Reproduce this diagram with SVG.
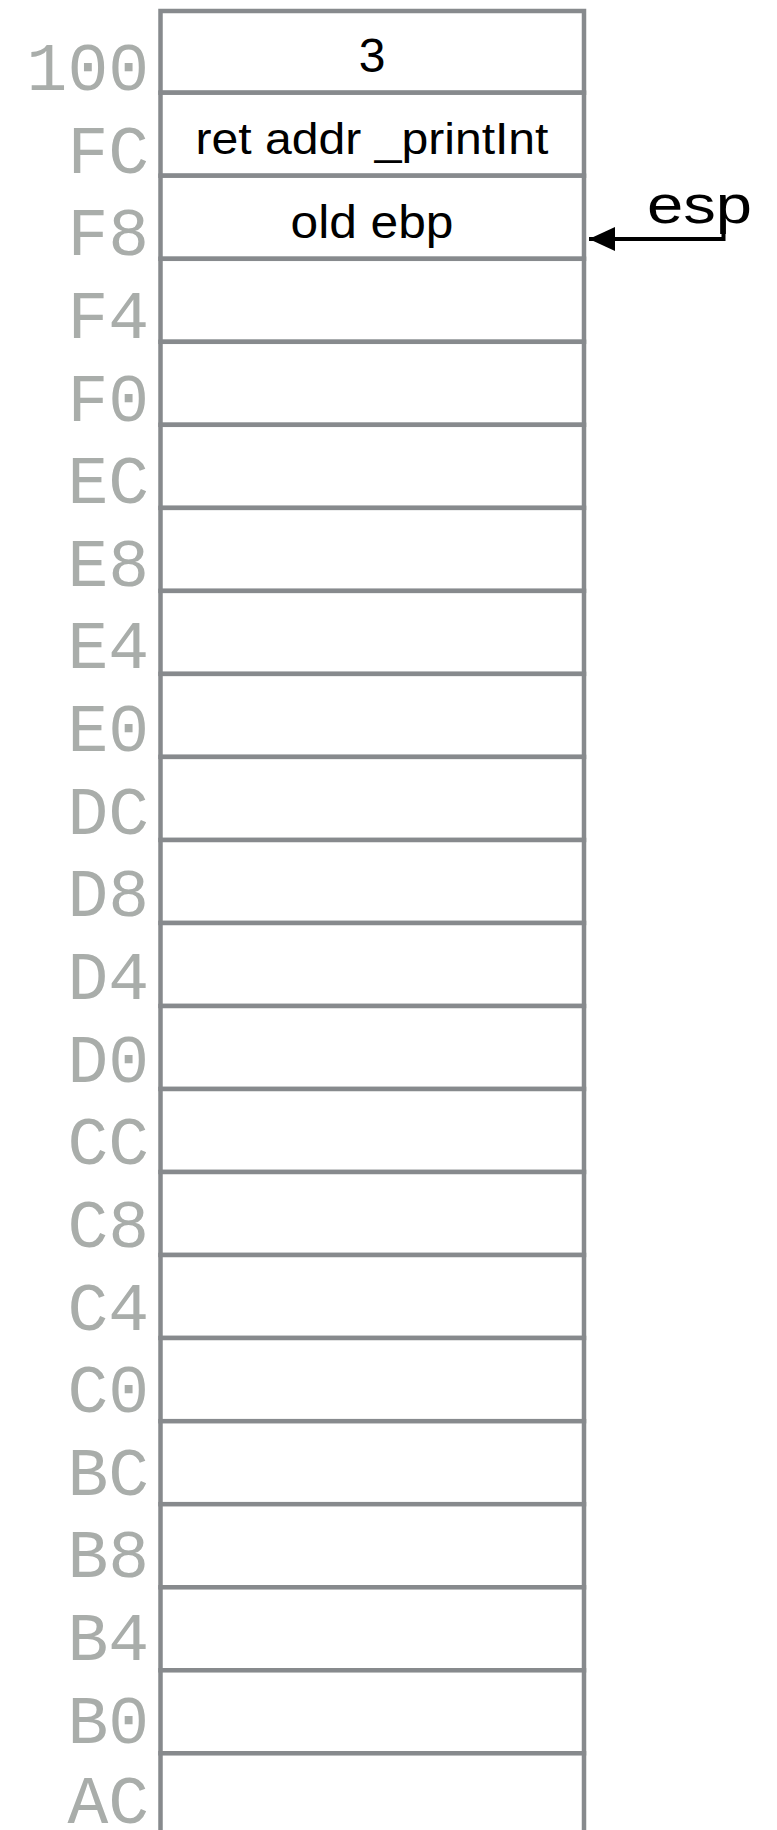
<svg xmlns="http://www.w3.org/2000/svg" width="777" height="1830" viewBox="0 0 777 1830">
<style>
.cell{fill:#ffffff;stroke:#878a8d;stroke-width:4.5}
.addr{font-family:"Liberation Mono",monospace;font-size:68px;fill:#a9adaa;text-anchor:end}
.val{font-family:"Liberation Sans",Arial,sans-serif;fill:#000000;text-anchor:middle}
.conn{fill:none;stroke:#000000;stroke-width:4}
</style>
<defs>
<marker id="ah" markerUnits="userSpaceOnUse" markerWidth="26" markerHeight="24" refX="26" refY="12" orient="auto">
<path d="M26,12 L0,0 L0,24 Z" fill="#000000"/>
</marker>
</defs>
<rect width="777" height="1830" fill="#ffffff"/>
<g id="stack">
<g id="row-100"><rect class="cell" x="160.5" y="11" width="423.5" height="81.7"/><text class="addr" x="149" y="90">100</text><text class="val" x="372" y="72" font-size="48">3</text></g>
<g id="row-FC"><rect class="cell" x="160.5" y="92.7" width="423.5" height="83"/><text class="addr" x="149" y="172.6">FC</text><text class="val" x="372" y="153.5" font-size="44" textLength="353" lengthAdjust="spacingAndGlyphs">ret addr _printInt</text></g>
<g id="row-F8"><rect class="cell" x="160.5" y="175.7" width="423.5" height="83.1"/><text class="addr" x="149" y="255.3">F8</text><text class="val" x="372" y="238" font-size="46" textLength="163" lengthAdjust="spacingAndGlyphs">old ebp</text></g>
<g id="row-F4"><rect class="cell" x="160.5" y="258.8" width="423.5" height="83"/><text class="addr" x="149" y="337.9">F4</text></g>
<g id="row-F0"><rect class="cell" x="160.5" y="341.8" width="423.5" height="83"/><text class="addr" x="149" y="420.5">F0</text></g>
<g id="row-EC"><rect class="cell" x="160.5" y="424.8" width="423.5" height="83.1"/><text class="addr" x="149" y="503.2">EC</text></g>
<g id="row-E8"><rect class="cell" x="160.5" y="507.9" width="423.5" height="83"/><text class="addr" x="149" y="585.8">E8</text></g>
<g id="row-E4"><rect class="cell" x="160.5" y="590.9" width="423.5" height="83"/><text class="addr" x="149" y="668.4">E4</text></g>
<g id="row-E0"><rect class="cell" x="160.5" y="673.9" width="423.5" height="83"/><text class="addr" x="149" y="751">E0</text></g>
<g id="row-DC"><rect class="cell" x="160.5" y="756.9" width="423.5" height="83.1"/><text class="addr" x="149" y="833.7">DC</text></g>
<g id="row-D8"><rect class="cell" x="160.5" y="840" width="423.5" height="83"/><text class="addr" x="149" y="916.3">D8</text></g>
<g id="row-D4"><rect class="cell" x="160.5" y="923" width="423.5" height="83"/><text class="addr" x="149" y="998.9">D4</text></g>
<g id="row-D0"><rect class="cell" x="160.5" y="1006" width="423.5" height="83"/><text class="addr" x="149" y="1081.6">D0</text></g>
<g id="row-CC"><rect class="cell" x="160.5" y="1089" width="423.5" height="83"/><text class="addr" x="149" y="1164.2">CC</text></g>
<g id="row-C8"><rect class="cell" x="160.5" y="1172" width="423.5" height="83"/><text class="addr" x="149" y="1246.8">C8</text></g>
<g id="row-C4"><rect class="cell" x="160.5" y="1255" width="423.5" height="83"/><text class="addr" x="149" y="1329.5">C4</text></g>
<g id="row-C0"><rect class="cell" x="160.5" y="1338" width="423.5" height="83.2"/><text class="addr" x="149" y="1412.1">C0</text></g>
<g id="row-BC"><rect class="cell" x="160.5" y="1421.2" width="423.5" height="83"/><text class="addr" x="149" y="1494.7">BC</text></g>
<g id="row-B8"><rect class="cell" x="160.5" y="1504.2" width="423.5" height="83.1"/><text class="addr" x="149" y="1577.3">B8</text></g>
<g id="row-B4"><rect class="cell" x="160.5" y="1587.3" width="423.5" height="83"/><text class="addr" x="149" y="1660">B4</text></g>
<g id="row-B0"><rect class="cell" x="160.5" y="1670.3" width="423.5" height="83"/><text class="addr" x="149" y="1742.6">B0</text></g>
<g id="row-AC"><rect class="cell" x="160.5" y="1753.3" width="423.5" height="100"/><text class="addr" x="149" y="1823">AC</text></g>
</g>
<g id="esp"><text class="val" x="699.5" y="223" font-size="54" textLength="105" lengthAdjust="spacingAndGlyphs">esp</text></g>
<g id="connectors">
<path class="conn" d="M723.5,220 L723.5,239 L589,239" marker-end="url(#ah)"/>
</g>
</svg>
